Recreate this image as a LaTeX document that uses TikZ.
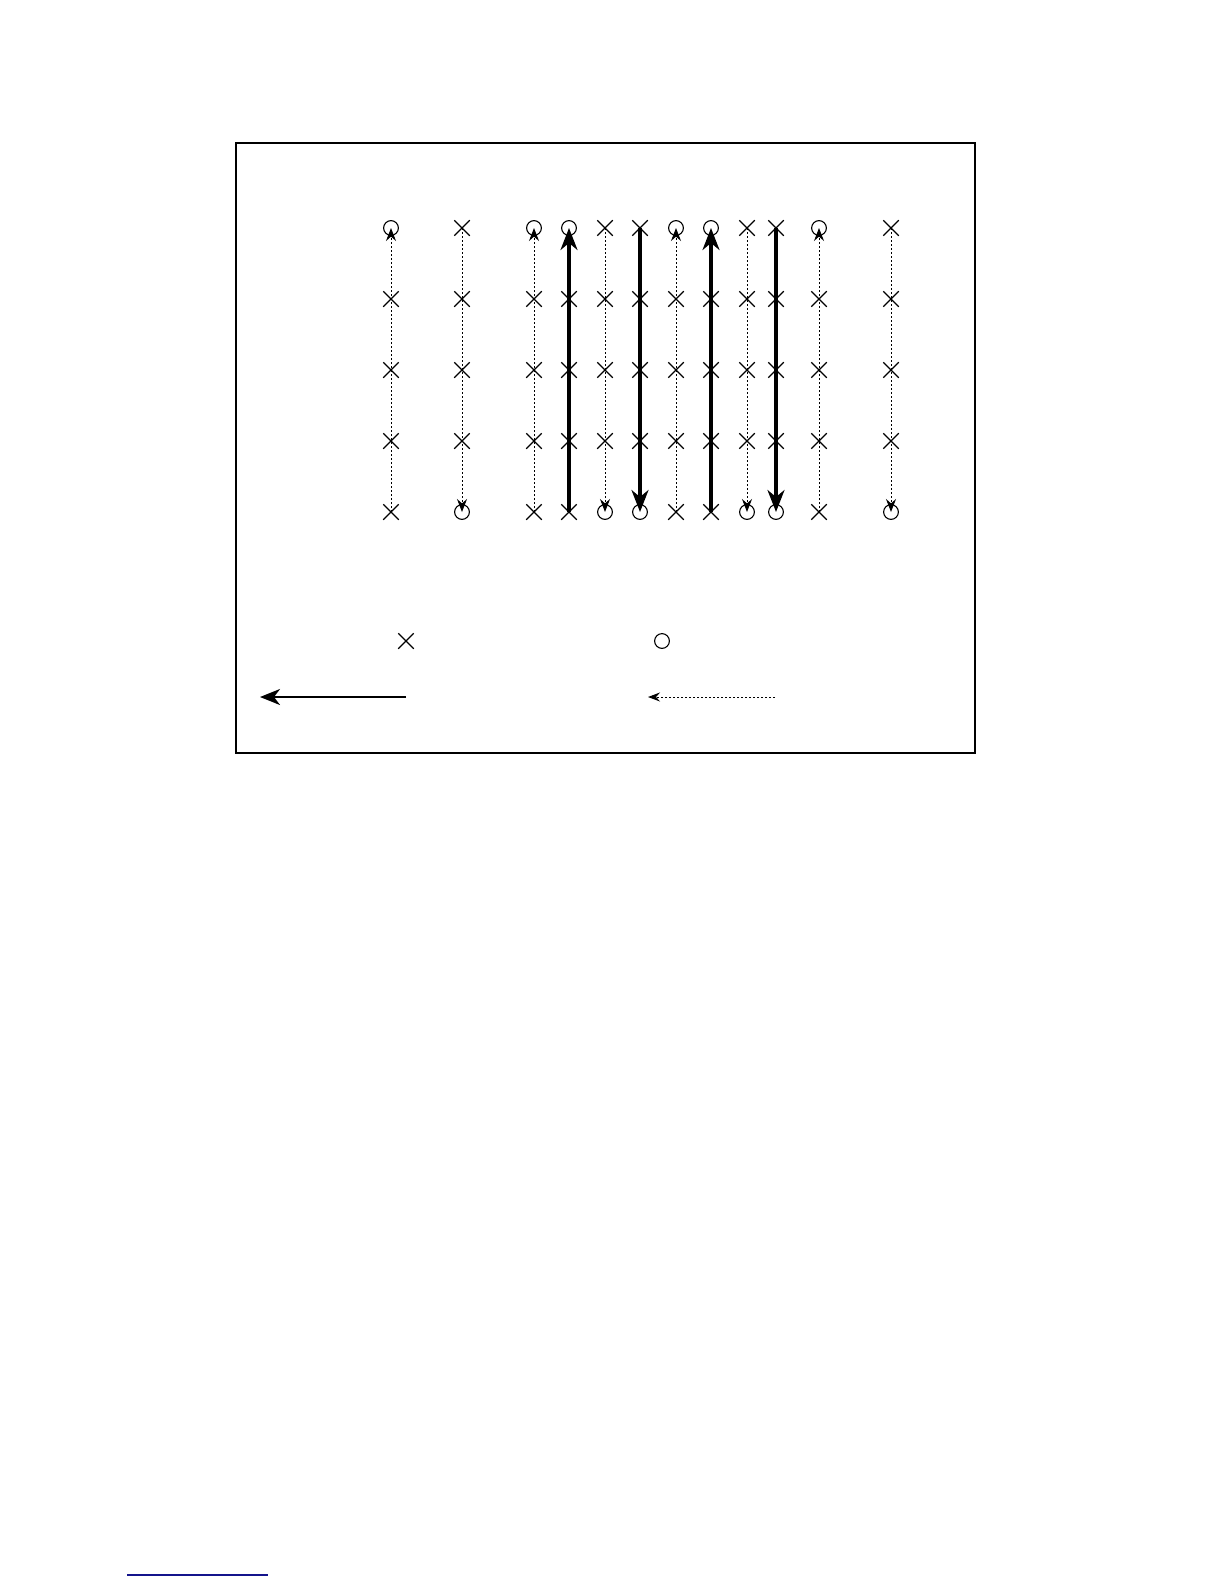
\documentclass[tikz,border=0pt]{standalone}
\usetikzlibrary{arrows.meta,shapes.misc}
\definecolor{rulecol}{RGB}{20,20,140}
\begin{document}
\begin{tikzpicture}[x=0.5bp,y=-0.5bp,
  xm/.style={draw,cross out,minimum size=7.2bp,inner sep=0pt,line width=0.55bp},
  om/.style={draw,circle,minimum size=7.4bp,inner sep=0pt,line width=0.55bp},
  thinarr/.style={line width=0.5bp,dash pattern=on 1bp off 1bp,-{Stealth[length=6.5bp,width=5bp,inset=2.2bp]}},
  thickarr/.style={line width=1.6bp,-{Stealth[length=11bp,width=8.5bp,inset=3.5bp]}},
  legthick/.style={line width=1.2bp,-{Stealth[length=10bp,width=8bp,inset=3bp]}},
  legthin/.style={line width=0.5bp,dash pattern=on 1bp off 1bp,-{Stealth[length=6bp,width=4.5bp,inset=2bp]}}]
\useasboundingbox (0,0) rectangle (1224,1584);
\draw[line width=0.7bp] (236,143) rectangle (975,753);
\foreach \x/\t/\s [count=\i] in {391/1/0,462/0/0,534/1/0,569/1/1,605/0/0,640/0/1,676/1/0,711/1/1,747/0/0,776/0/1,819/1/0,891/0/0}{
  \ifnum\t=1
    \node[om] (m\i-1) at (\x,228) {};
    \node[xm] (m\i-5) at (\x,512) {};
  \else
    \node[xm] (m\i-1) at (\x,228) {};
    \node[om] (m\i-5) at (\x,512) {};
  \fi
  \foreach \r/\y in {2/299,3/370,4/441} \node[xm] (m\i-\r) at (\x,\y) {};
  \ifnum\t=1 \def\mfrom{m\i-5}\def\mto{m\i-1}\else\def\mfrom{m\i-1}\def\mto{m\i-5}\fi
  \ifnum\s=1
    \draw[thickarr] (\mfrom.center) -- (\mto.center);
  \else
    \draw[thinarr] (\mfrom.center) -- (\mto.center);
  \fi
}
\node[xm] (lx) at (406,641) {};
\node[om] (lo) at (662,641) {};
\coordinate (ta1) at (406,697);
\coordinate (ta2) at (260,697);
\draw[legthick] (ta1) -- (ta2);
\coordinate (da1) at (775,697);
\coordinate (da2) at (648,697);
\draw[legthin] (da1) -- (da2);
\coordinate (fr1) at (127,1575);
\coordinate (fr2) at (268,1575);
\draw[rulecol,line width=0.8bp] (fr1) -- (fr2);
\end{tikzpicture}
\end{document}
